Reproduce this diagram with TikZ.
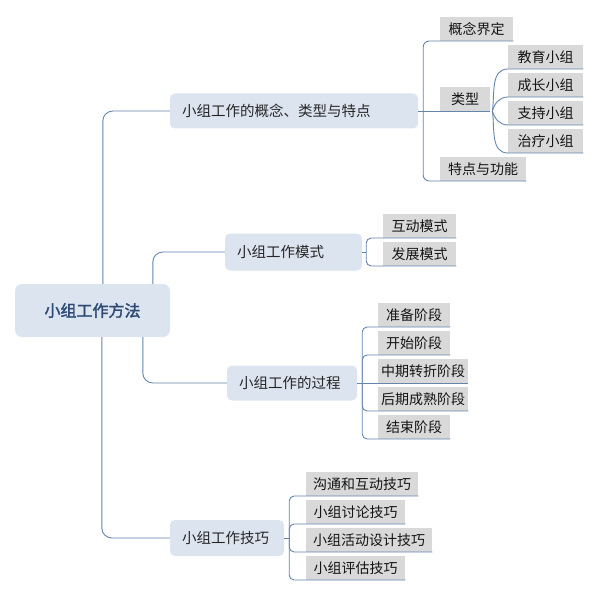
\documentclass[tikz,border=0pt]{standalone}
\usepackage{fontspec}
\setmainfont{Noto Sans CJK SC}[AutoFakeBold=2]
\usetikzlibrary{calc}
\definecolor{mainfill}{HTML}{DCE4F0}
\definecolor{leaffill}{HTML}{D9D9D9}
\definecolor{conncol}{HTML}{6585AE}
\definecolor{roottext}{HTML}{2E4A74}
\definecolor{maintext}{HTML}{262626}
\tikzset{
  rootbox/.style={fill=mainfill, rounded corners=7pt, minimum width=155pt, minimum height=53pt, inner sep=0pt, font=\fontsize{16}{18}\selectfont\bfseries, text=roottext},
  mainbox/.style={fill=mainfill, rounded corners=5pt, minimum height=35pt, inner ysep=0pt, inner xsep=12pt, align=left, text width=#1, font=\fontsize{14.5}{17}\selectfont, text=maintext},
  leafbox/.style={fill=leaffill, anchor=south west, minimum height=24pt, inner sep=0pt, font=\fontsize{14}{16}\selectfont, text=black!92},
  conn/.style={draw=conncol, line width=0.9pt},
}
\begin{document}
\begin{tikzpicture}[x=1pt,y=-1pt]
\useasboundingbox[fill=white] (0,0) rectangle (599,596);

% root
\node[rootbox] (root) at (92.5,310.5) {小组工作方法};

% main branches
\node[mainbox=224pt] (b1) at (294,111) {小组工作的概念、类型与特点};
\node[mainbox=113pt, minimum height=37pt] (b2) at (293.5,252) {小组工作模式};
\node[mainbox=106pt] (b3) at (292,383) {小组工作的过程};
\node[mainbox=90pt, minimum height=36pt] (b4) at (227,538) {小组工作技巧};

% leaves of b1
\node[leafbox, minimum width=73pt] (c11) at (440,41) {概念界定};
\node[leafbox, minimum width=50pt] (c12) at (440,111) {类型};
\node[leafbox, minimum width=86pt] (c13) at (440,181) {特点与功能};
\node[leafbox, minimum width=75pt] (g1) at (508,69) {教育小组};
\node[leafbox, minimum width=75pt] (g2) at (508,97) {成长小组};
\node[leafbox, minimum width=75pt] (g3) at (508,125) {支持小组};
\node[leafbox, minimum width=75pt] (g4) at (508,153) {治疗小组};

% leaves of b2
\node[leafbox, minimum width=73pt] (c21) at (383,238) {互动模式};
\node[leafbox, minimum width=73pt] (c22) at (383,266) {发展模式};

% leaves of b3
\node[leafbox, minimum width=72pt] (c31) at (378,327) {准备阶段};
\node[leafbox, minimum width=72pt] (c32) at (378,355) {开始阶段};
\node[leafbox, minimum width=90pt] (c33) at (378,383) {中期转折阶段};
\node[leafbox, minimum width=90pt] (c34) at (378,411) {后期成熟阶段};
\node[leafbox, minimum width=72pt] (c35) at (378,439) {结束阶段};

% leaves of b4
\node[leafbox, minimum width=112pt] (c41) at (306,496) {沟通和互动技巧};
\node[leafbox, minimum width=99pt] (c42) at (306,524) {小组讨论技巧};
\node[leafbox, minimum width=126pt] (c43) at (306,552) {小组活动设计技巧};
\node[leafbox, minimum width=99pt] (c44) at (306,580) {小组评估技巧};

% root connectors
\draw[conn, rounded corners=10pt] ($(root.north west)+(88,0)$) |- (b1.west);
\draw[conn, rounded corners=10pt] ($(root.north west)+(138,0)$) |- (b2.west);
\draw[conn, rounded corners=10pt] ($(root.south west)+(128,0)$) |- (b3.west);
\draw[conn, rounded corners=10pt] ($(root.south west)+(87,0)$) |- (b4.west);

% b1 connectors
\coordinate (k1) at ($(b1.east)+(5,0)$);
\draw[conn] (b1.east) -- (c12.south east);
\draw[conn, rounded corners=6pt] (k1) |- (c11.south east);
\draw[conn, rounded corners=6pt] (k1) |- (c13.south east);
\coordinate (f1) at ($(c12.south east)+(2,0)$);
\draw[conn] (f1) to[out=82,in=180] (g1.south west) -- (g1.south east);
\draw[conn] (f1) to[out=75,in=180] (g2.south west) -- (g2.south east);
\draw[conn] (f1) to[out=-75,in=180] (g3.south west) -- (g3.south east);
\draw[conn] (f1) to[out=-82,in=180] (g4.south west) -- (g4.south east);

% b2 connectors
\coordinate (k2) at ($(b2.east)+(4,0)$);
\draw[conn] (b2.east) -- (k2);
\draw[conn, rounded corners=5pt] (k2) |- (c21.south east);
\draw[conn, rounded corners=5pt] (k2) |- (c22.south east);

% b3 connectors
\coordinate (k3) at ($(b3.east)+(5,0)$);
\draw[conn] (b3.east) -- (c33.south east);
\draw[conn, rounded corners=5pt] (k3) |- (c31.south east);
\draw[conn, rounded corners=5pt] (k3) |- (c32.south east);
\draw[conn, rounded corners=5pt] (k3) |- (c34.south east);
\draw[conn, rounded corners=5pt] (k3) |- (c35.south east);

% b4 connectors
\coordinate (k4) at ($(b4.east)+(5,0)$);
\draw[conn] (b4.east) -- (k4);
\draw[conn, rounded corners=5pt] (k4) |- (c41.south east);
\draw[conn, rounded corners=5pt] (k4) |- (c42.south east);
\draw[conn, rounded corners=5pt] (k4) |- (c43.south east);
\draw[conn, rounded corners=5pt] (k4) |- (c44.south east);
\end{tikzpicture}
\end{document}
